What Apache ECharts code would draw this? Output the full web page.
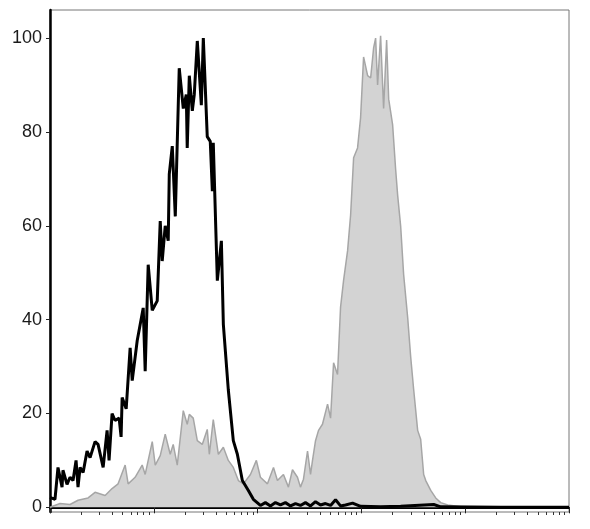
<!DOCTYPE html>
<html>
<head>
<meta charset="utf-8">
<script src="https://cdn.jsdelivr.net/npm/echarts@6/dist/echarts.min.js"></script>
<style>
  html, body { margin: 0; padding: 0; background: #fff; }
  #main { width: 590px; height: 529px; }
</style>
</head>
<body>
<div id="main"></div>
<script>
// x = log10 fluorescence (decades), y = % of max count
var isoX = [0, 0.048, 0.077, 0.116, 0.125, 0.164, 0.193, 0.222, 0.251, 0.270, 0.290, 0.319, 0.357, 0.386,
  0.434, 0.463, 0.512, 0.550, 0.569, 0.598, 0.627, 0.666, 0.685, 0.695, 0.734, 0.772, 0.792, 0.840,
  0.898, 0.917, 0.946, 0.985, 1.033, 1.062, 1.081, 1.110, 1.139, 1.149, 1.178, 1.207, 1.245, 1.284,
  1.313, 1.322, 1.342, 1.371, 1.390, 1.419, 1.458, 1.477, 1.515, 1.544, 1.564, 1.573, 1.612, 1.651,
  1.670, 1.718, 1.766, 1.805, 1.853, 1.911, 1.959, 2.027, 2.075, 2.124, 2.172, 2.220, 2.268, 2.317,
  2.365, 2.413, 2.461, 2.510, 2.558, 2.606, 2.654, 2.703, 2.751, 2.799, 2.847, 2.915, 2.992, 3.185,
  3.378, 3.697, 3.764, 4.344, 5.0];
var isoY = [2.1, 1.7, 8.5, 4.3, 7.9, 4.9, 6.4, 5.7, 10, 4.3, 8.5, 7.4, 12, 10.6,
  14, 13.4, 8.5, 16.4, 10, 20, 18.5, 19, 15, 23.4, 21, 34, 27, 35.5,
  42.5, 29, 51.7, 42, 44, 61, 52.5, 60, 56.8, 71, 77, 62, 93.6, 85,
  88, 76.6, 92, 84.5, 88, 99.4, 85.7, 100, 79, 78, 67.4, 77.7, 48.3, 56.8,
  39, 25, 14.2, 11.3, 5.7, 3.6, 1.7, 0.4, 1, 0.3, 1, 0.5, 1, 0.3,
  0.8, 0.4, 1, 0.3, 1.2, 0.5, 0.8, 0.4, 1.6, 0.3, 0.5, 0.9, 0.2, 0.1,
  0.2, 0.6, 0.1, 0, 0];

var stainX = [0, 0.097, 0.193, 0.270, 0.367, 0.434, 0.531, 0.598, 0.656, 0.724, 0.753, 0.820, 0.888,
  0.917, 0.985, 1.014, 1.062, 1.110, 1.158, 1.187, 1.226, 1.284, 1.322, 1.342, 1.380, 1.419, 1.467,
  1.515, 1.535, 1.573, 1.622, 1.670, 1.718, 1.766, 1.815, 1.863, 1.931, 1.988, 2.027, 2.095, 2.153,
  2.191, 2.249, 2.297, 2.336, 2.384, 2.413, 2.442, 2.481, 2.510, 2.529, 2.558, 2.587, 2.625, 2.674,
  2.703, 2.732, 2.770, 2.799, 2.828, 2.867, 2.896, 2.925, 2.963, 2.992, 3.021, 3.060, 3.089, 3.118,
  3.137, 3.156, 3.185, 3.214, 3.243, 3.263, 3.301, 3.330, 3.349, 3.378, 3.407, 3.446, 3.475, 3.504,
  3.542, 3.571, 3.600, 3.620, 3.668, 3.716, 3.764, 3.832, 3.958, 4.151, 5.0];
var stainY = [0, 0.8, 0.6, 1.5, 2, 3.2, 2.5, 4, 5, 9, 5, 6.4, 9,
  7, 14, 9, 11, 15.6, 11.3, 13.4, 9, 20.6, 17.7, 19.8, 19, 14.2, 13.4,
  16.6, 11.3, 18.7, 11.3, 12.8, 10, 8.5, 5.7, 5, 7, 10, 6.4, 5, 8.5,
  5.7, 7, 4.3, 8, 6.4, 4.3, 6, 12, 7, 10, 14.2, 16.4, 17.7, 22,
  19, 30.8, 28.3, 42.6, 48.3, 54.7, 62.3, 74.5, 76.6, 83, 96, 92, 91.5, 98,
  100, 90, 100.5, 85, 99.6, 87, 81.5, 72, 66.6, 60, 49.6, 40.4, 32, 25,
  16.4, 14.5, 7, 5.7, 3.6, 2, 1, 0.5, 0.1, 0, 0];

var yLabels = [0, 20, 40, 60, 80, 100];
var decades = [0, 1, 2, 3, 4, 5];

// minor log ticks 2..9 in every decade
var minorTicks = [];
for (var d = 0; d < 5; d++) {
  for (var k = 2; k <= 9; k++) {
    minorTicks.push(d + Math.log10(k));
  }
}

function pairs(xs, ys) {
  var out = [];
  for (var i = 0; i < xs.length; i++) out.push([xs[i], ys[i]]);
  return out;
}

var myChart = echarts.init(document.getElementById("main"));

var option = {
  animation: false,
  backgroundColor: "#fff",
  grid: {
    left: 50, right: 21, top: 10, bottom: 17,
    show: true, borderColor: "#777", borderWidth: 1
  },
  xAxis: [{
    type: "value", min: 0, max: 5,
    splitLine: { show: false },
    axisLine: { show: true, lineStyle: { color: "#000", width: 2 } },
    axisTick: { show: true, length: 6, lineStyle: { color: "#222", width: 1 }, customValues: decades },
    axisLabel: { show: false }
  }, {
    type: "value", min: 0, max: 5, position: "bottom",
    splitLine: { show: false },
    axisLine: { show: false },
    axisTick: { show: true, length: 3, lineStyle: { color: "#333", width: 1 }, customValues: minorTicks },
    axisLabel: { show: false }
  }],
  yAxis: {
    type: "value", min: -1, max: 106,
    splitLine: { show: false },
    axisLine: { show: true, lineStyle: { color: "#000", width: 2.5 } },
    axisTick: { show: true, length: 4, lineStyle: { color: "#222" }, customValues: yLabels },
    axisLabel: {
      customValues: yLabels, margin: 8,
      color: "#1a1a1a", fontSize: 18, fontFamily: "Liberation Sans, Arial, sans-serif"
    }
  },
  series: [{
    type: "line",
    data: pairs(stainX, stainY),
    showSymbol: false,
    lineStyle: { color: "#a6a6a6", width: 1.5 },
    areaStyle: { color: "#d3d3d3", opacity: 1 },
    z: 2
  }, {
    type: "line",
    data: pairs(isoX, isoY),
    showSymbol: false,
    lineStyle: { color: "#000", width: 3 },
    z: 3
  }]
};

myChart.setOption(option);
</script>
</body>
</html>
